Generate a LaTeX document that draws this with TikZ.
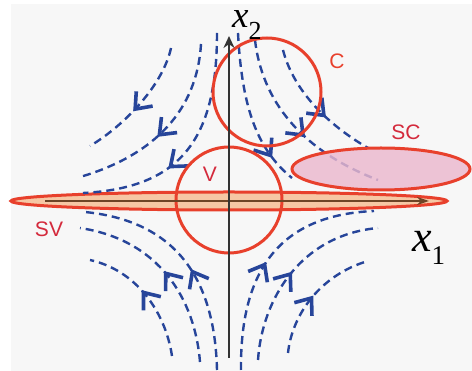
\documentclass[tikz,border=0pt]{standalone}
\usepackage{fontspec}
\setmainfont{Liberation Sans}
\newfontfamily\tms{Liberation Serif}
\usetikzlibrary{arrows.meta,calc}
\definecolor{bgc}{HTML}{F7F7F7}
\definecolor{redl}{HTML}{E8402C}
\definecolor{peach}{HTML}{F6C7A4}
\definecolor{pinkf}{HTML}{EBB8CE}
\definecolor{flowblue}{HTML}{27459A}
\definecolor{brownl}{HTML}{6E4426}
\definecolor{axisc}{HTML}{333333}
\definecolor{labred}{HTML}{D42A3C}
\tikzset{
  flowline/.style={draw=flowblue, line width=2.4pt, dash pattern=on 8pt off 5pt},
  chev/.style={draw=flowblue, solid, line width=3.6pt, line join=miter, line cap=butt},
  redring/.style={draw=redl, line width=3pt},
  lab/.style={text=labred, font=\fontsize{21}{21}\selectfont, inner sep=0pt},
}
% chevron arrowhead: tip at #1, opening toward #2
\newcommand{\flowhead}[2]{\draw[chev] ($(#1)!14pt!(#2)!11pt!90:(#1)$) -- (#1) -- ($(#1)!14pt!(#2)!11pt!-90:(#1)$);}
\begin{document}
\begin{tikzpicture}[x=1pt,y=-1pt]
\useasboundingbox (0,0) rectangle (472,371);
\fill[bgc] (11,4) rectangle (472,371);
% SV lens
\draw[redring, fill=peach] (229,201) ellipse [x radius=218, y radius=9];
% flow lines, upper left
\draw[flowline] (171,48) .. controls (163,85) and (125,125) .. coordinate[pos=0.56] (t1) coordinate[pos=0.5] (b1) (90,146);
\draw[flowline] (201,44) .. controls (197,110) and (155,155) .. coordinate[pos=0.56] (t2) coordinate[pos=0.5] (b2) (80,177);
\draw[flowline] (217,33) .. controls (217,140) and (180,188) .. coordinate[pos=0.61] (t3) coordinate[pos=0.56] (b3) (83,193);
% upper right
\draw[flowline] (238,33) .. controls (242,110) and (258,150) .. coordinate[pos=0.76] (t4) coordinate[pos=0.7] (b4) (292,178);
\draw[flowline] (255,40) .. controls (262,100) and (300,150) .. coordinate[pos=0.6] (t5) coordinate[pos=0.54] (b5) (378,180);
\draw[flowline] (283,50) .. controls (292,85) and (320,120) .. coordinate[pos=0.64] (t6) coordinate[pos=0.56] (b6) (368,148);
% lower left
\draw[flowline] (217,370) .. controls (215,290) and (185,222) .. coordinate[pos=0.46] (t7) coordinate[pos=0.4] (b7) (85,212);
\draw[flowline] (200,362) .. controls (195,300) and (160,240) .. coordinate[pos=0.52] (t8) coordinate[pos=0.46] (b8) (80,228);
\draw[flowline] (172,356) .. controls (165,310) and (135,270) .. coordinate[pos=0.52] (t9) coordinate[pos=0.44] (b9) (90,260);
% lower right
\draw[flowline] (241,370) .. controls (240,270) and (280,215) .. coordinate[pos=0.44] (t10) coordinate[pos=0.38] (b10) (374,211);
\draw[flowline] (258,360) .. controls (262,300) and (300,235) .. coordinate[pos=0.5] (t11) coordinate[pos=0.44] (b11) (378,228);
\draw[flowline] (288,353) .. controls (292,315) and (320,275) .. coordinate[pos=0.5] (t12) coordinate[pos=0.42] (b12) (368,261);
% arrowheads
\flowhead{t1}{b1} \flowhead{t2}{b2} \flowhead{t3}{b3}
\flowhead{t4}{b4} \flowhead{t5}{b5} \flowhead{t6}{b6}
\flowhead{t7}{b7} \flowhead{t8}{b8} \flowhead{t9}{b9}
\flowhead{t10}{b10} \flowhead{t11}{b11} \flowhead{t12}{b12}
% SC ellipse
\draw[redring, fill=pinkf, fill opacity=0.82] (381,169) ellipse [x radius=89, y radius=21];
% circles
\draw[redring] (229,200) circle [radius=53];
\draw[redring] (267,92) circle [radius=54];
% axes
\coordinate (h0) at (45,201);
\coordinate (h1) at (429,201);
\draw[brownl, line width=1.8pt, -{Stealth[length=12pt,width=8pt]}] (h0) -- (h1);
\coordinate (v0) at (229,358);
\coordinate (v1) at (229,36);
\draw[axisc, line width=1.8pt, -{Stealth[length=12pt,width=11pt]}] (v0) -- (v1);
% labels
\node[lab, text=redl] (lc) at (337,61) {C};
\node[lab] (lsc) at (406,132) {SC};
\node[lab] (lv) at (210,174) {V};
\node[lab] (lsv) at (49,229) {SV};
\node[anchor=base west, inner sep=0pt] (xone) at (412,252)
  {\tms\fontsize{44}{44}\selectfont\textit{x}\raisebox{-13pt}{\fontsize{27}{27}\selectfont 1}};
\node[anchor=base west, inner sep=0pt] (xtwo) at (232,28)
  {\tms\fontsize{37}{37}\selectfont\textit{x}\raisebox{-12pt}{\fontsize{26}{26}\selectfont 2}};
\end{tikzpicture}
\end{document}
